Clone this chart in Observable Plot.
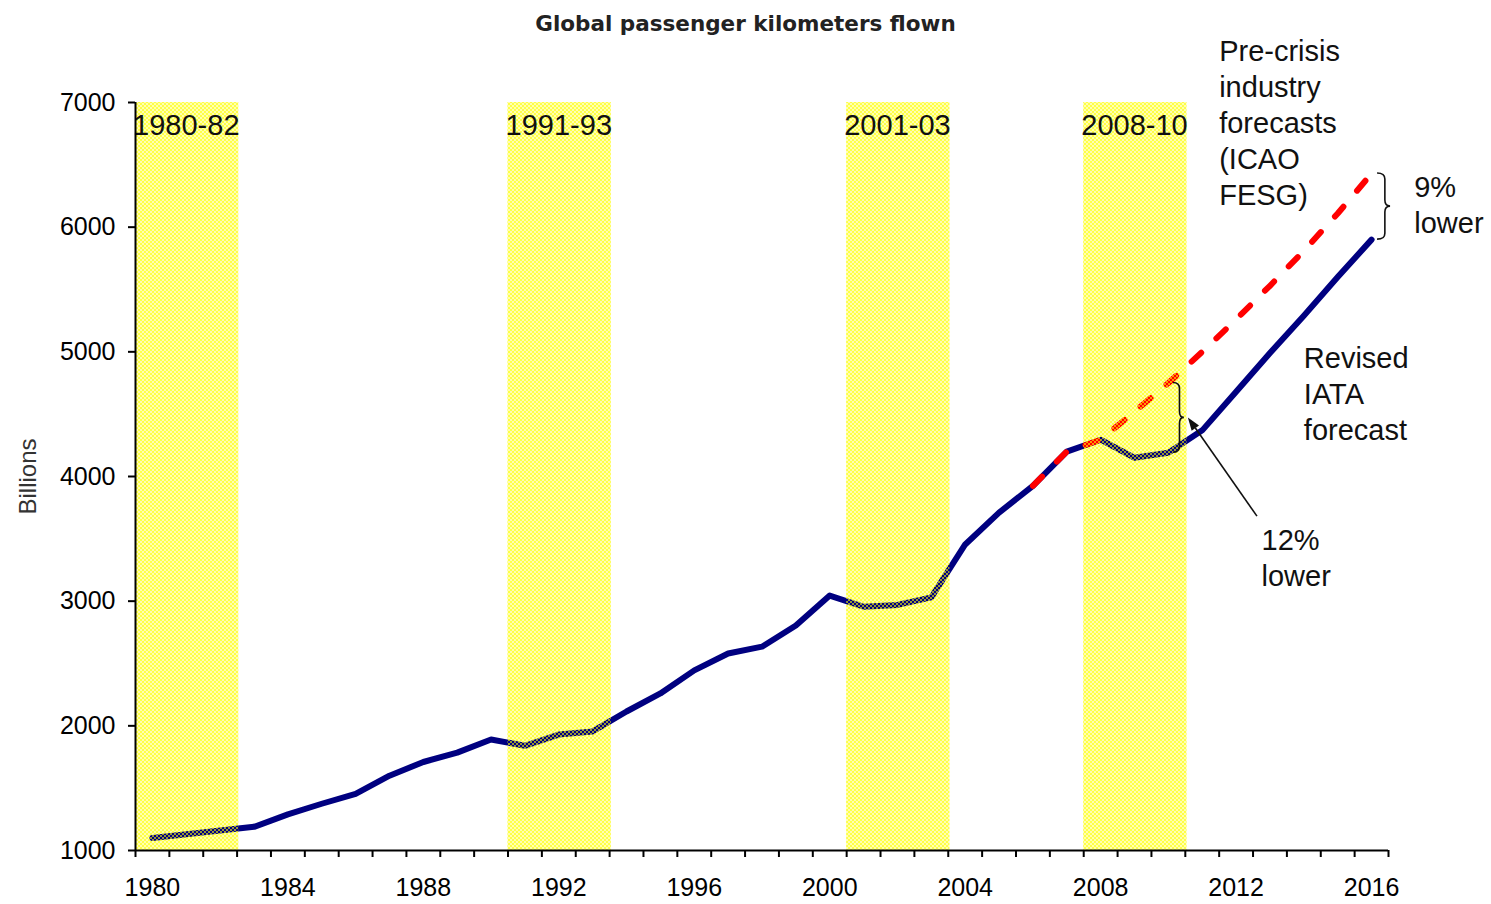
<!DOCTYPE html>
<html>
<head>
<meta charset="utf-8">
<script src="https://cdn.jsdelivr.net/npm/d3@7"></script>
<script src="https://cdn.jsdelivr.net/npm/@observablehq/plot@0.6"></script>
<style>
  body { margin: 0; background: #fff; }
  #title { height: 24px; padding-top: 11px; line-height: 24px; text-align: center;
           font: bold 21.5px "DejaVu Sans", Verdana, sans-serif; color: #222; }
  #chart svg { overflow: visible; display: block; }
</style>
</head>
<body>
<div id="title">Global passenger kilometers flown</div>
<div id="chart"></div>
<script>
// Passenger kilometres, billions: history to 2009 plus the revised IATA forecast
const years = [1980, 1981, 1982, 1983, 1984, 1985, 1986, 1987, 1988, 1989,
               1990, 1991, 1992, 1993, 1994, 1995, 1996, 1997, 1998, 1999,
               2000, 2001, 2002, 2003, 2004, 2005, 2006, 2007, 2008, 2009,
               2010, 2011, 2012, 2013, 2014, 2015, 2016];
const revised = [1100, 1130, 1160, 1190, 1290, 1375, 1455, 1600, 1710, 1785,
                 1890, 1840, 1930, 1955, 2115, 2260, 2445, 2580, 2635, 2805,
                 3045, 2955, 2970, 3030, 3455, 3710, 3925, 4200, 4295, 4150,
                 4190, 4370, 4680, 4990, 5290, 5600, 5900];

// Pre-crisis industry forecast (ICAO FESG)
const preYears = [2006, 2007, 2008, 2009, 2010, 2011, 2012, 2013, 2014, 2015, 2016];
const preCrisis = [3925, 4200, 4295, 4520, 4750, 5000, 5260, 5530, 5810, 6110, 6430];

// Downturn periods
const bandStart = [1980, 1991, 2001, 2008];
const bandEnd   = [1982, 1993, 2003, 2010];
const bandLabel = ["1980-82", "1991-93", "2001-03", "2008-10"];

// Axis ticks
const yTicks = [1000, 2000, 3000, 4000, 5000, 6000, 7000];
const xLabelYears = [1980, 1984, 1988, 1992, 1996, 2000, 2004, 2008, 2012, 2016];

// Annotation texts, placed in data units
const noteText = ["Pre-crisis\nindustry\nforecasts\n(ICAO\nFESG)", "Revised\nIATA\nforecast", "9%\nlower", "12%\nlower"];
const noteX = [2011.5, 2014.0, 2017.26, 2012.75];
const noteY = [6850, 4677, 6188, 3362];

const series = years.map((year, i) => ({year, value: revised[i]}));
const forecast = preYears.map((year, i) => ({year, value: preCrisis[i]}));
const bands = bandStart.map((s, i) => ({start: s, end: bandEnd[i], label: bandLabel[i]}));
const notes = noteText.map((text, i) => ({text, x: noteX[i], y: noteY[i]}));
// category boundaries (tick marks sit between the years)
const tickEdges = years.map(y => y - 0.5).concat([years[years.length - 1] + 0.5]);

const valueAt = (xs, vs, yr) => vs[xs.indexOf(yr)];

// checkered yellow overlay for the downturn bands
const patternDefs = () => {
  const defs = d3.create("svg:defs");
  const p = defs.append("pattern").attr("id", "checker").attr("width", 4).attr("height", 4)
    .attr("patternUnits", "userSpaceOnUse");
  p.append("rect").attr("width", 2).attr("height", 2).attr("fill", "#ffff00").attr("fill-opacity", 0.6);
  p.append("rect").attr("x", 2).attr("y", 2).attr("width", 2).attr("height", 2).attr("fill", "#ffff00").attr("fill-opacity", 0.6);
  return defs.node();
};

// right-pointing curly brace
function bracePath(x, y1, y2, w) {
  const r = Math.min(6, (y2 - y1) / 4), ym = (y1 + y2) / 2, xm = x + w * 0.6;
  return `M${x},${y1} Q${xm},${y1} ${xm},${y1 + r} L${xm},${ym - r} Q${xm},${ym} ${x + w},${ym}` +
         ` Q${xm},${ym} ${xm},${ym + r} L${xm},${y2 - r} Q${xm},${y2} ${x},${y2}`;
}

// braces between the two forecasts and the arrow from the "12% lower" note
const braces = (index, scales) => {
  const {x, y} = scales;
  const g = d3.create("svg:g").attr("fill", "none").attr("stroke", "#111").attr("stroke-width", 1.6);
  // 2016 gap
  const bx1 = x(2016) + 6;
  g.append("path").attr("d", bracePath(bx1, y(valueAt(preYears, preCrisis, 2016)), y(valueAt(years, revised, 2016)), 13));
  // 2010 gap
  const bx2 = x(2010) + 5;
  const top = y(valueAt(preYears, preCrisis, 2010)), bot = y(valueAt(years, revised, 2010));
  g.append("path").attr("d", bracePath(bx2, top, bot, 11));
  // arrow to the 2010 brace
  const tx = bx2 + 15, ty = (top + bot) / 2;
  const sx = x(2012.63), sy = y(3678);
  const ang = Math.atan2(ty - sy, tx - sx), L = 13, hw = 4.5;
  const bxh = tx - L * Math.cos(ang), byh = ty - L * Math.sin(ang);
  g.append("line").attr("x1", sx).attr("y1", sy).attr("x2", bxh).attr("y2", byh);
  g.append("path").attr("stroke", "none").attr("fill", "#111")
    .attr("d", `M${tx},${ty} L${bxh - hw * Math.sin(ang)},${byh + hw * Math.cos(ang)} L${bxh + hw * Math.sin(ang)},${byh - hw * Math.cos(ang)} Z`);
  return g.node();
};

const bandX1 = d => d.start - 0.5, bandX2 = d => d.end + 0.55;

const chart = Plot.plot({
  width: 1491,
  height: 868,
  marginTop: 67,
  marginBottom: 53,
  marginLeft: 135,
  marginRight: 103,
  x: {type: "linear", domain: [tickEdges[0], tickEdges[tickEdges.length - 1]]},
  y: {domain: [1000, 7000]},
  style: {fontFamily: "'Liberation Sans', Arial, sans-serif", fontSize: "25px", color: "#000", background: "#fff", overflow: "visible"},
  marks: [
    patternDefs,
    Plot.rect(bands, {x1: bandX1, x2: bandX2, fill: "#ffffb0"}),
    Plot.line(series, {x: "year", y: "value", stroke: "#000080", strokeWidth: 6, strokeLinejoin: "round"}),
    Plot.line(forecast, {x: "year", y: "value", stroke: "#ff0000", strokeWidth: 6, strokeDasharray: "13,21"}),
    Plot.rect(bands, {x1: bandX1, x2: bandX2, fill: "url(#checker)"}),
    Plot.text(bands, {x: d => (d.start + d.end) / 2, frameAnchor: "top", dy: 12, text: "label", fontSize: 29, fill: "#111"}),
    Plot.axisY(yTicks, {tickSize: 7, tickPadding: 13, strokeWidth: 2, label: null, fontSize: 25, tickFormat: d => String(d)}),
    Plot.axisX(tickEdges, {tickSize: 7, tickFormat: () => "", strokeWidth: 2, label: null}),
    Plot.axisX(xLabelYears, {tickSize: 0, tickPadding: 28, tickFormat: d => String(d), label: null, fontSize: 25}),
    Plot.ruleY([1000], {stroke: "#000", strokeWidth: 2}),
    Plot.ruleX([tickEdges[0]], {stroke: "#000", strokeWidth: 2}),
    Plot.text(notes, {x: "x", y: "y", text: "text", textAnchor: "start", lineAnchor: "middle", lineHeight: 1.24, fontSize: 29, fill: "#111"}),
    Plot.text(["Billions"], {frameAnchor: "left", dx: -107, rotate: -90, textAnchor: "middle", text: d => d, fontSize: 24, fill: "#333"}),
    braces
  ]
});
document.getElementById("chart").appendChild(chart);
</script>
</body>
</html>
